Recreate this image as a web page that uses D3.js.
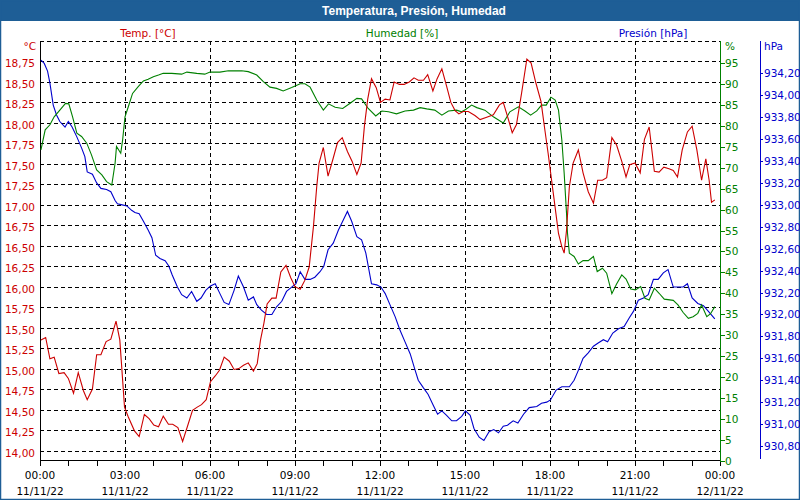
<!DOCTYPE html>
<html><head><meta charset="utf-8">
<script src="https://cdn.jsdelivr.net/npm/d3@7"></script>
<style>
html,body{margin:0;padding:0;background:#fff;}
svg{display:block;font-family:"DejaVu Sans",Verdana,sans-serif;}
</style></head><body>
<svg id="chart" width="800" height="500"></svg>
<script>
const chartTitle = "Temperatura, Presión, Humedad";
const seriesNames = ["Temp. [°C]", "Humedad [%]", "Presión [hPa]"];
const unitNames = ["°C", "%", "hPa"];

// time in minutes since 00:00 11/11/22
const tempTime = [2,12,21,30,40,51,60,71,81,92,100,111,120,129,140,150,161,169,179,187,200,210,221,231,241,251,261,272,281,292,302,312,323,333,342,352,361,371,380,390,401,411,421,431,441,452,460,467,474,481,491,500,510,521,531,540,551,561,570,579,586,591,600,610,620,630,640,651,661,671,680,687,694,702,712,721,731,741,750,761,771,782,792,801,812,821,832,841,851,861,870,879,887,896,907,921,932,946,960,973,981,990,1000,1009,1020,1031,1040,1050,1061,1069,1076,1087,1098,1105,1110,1115,1121,1129,1140,1150,1161,1172,1181,1191,1200,1211,1221,1232,1241,1249,1260,1271,1280,1290,1301,1311,1321,1332,1341,1350,1360,1371,1381,1391,1401,1410,1417,1422,1429];
const tempValues = [15.35,15.38,15.12,15.14,14.94,14.95,14.88,14.70,14.95,14.73,14.62,14.75,15.17,15.17,15.33,15.36,15.58,15.35,14.53,14.41,14.24,14.17,14.44,14.39,14.31,14.29,14.42,14.32,14.32,14.28,14.11,14.29,14.49,14.53,14.56,14.62,14.84,14.91,14.98,15.14,15.09,14.99,15.00,15.04,15.07,14.97,15.06,15.35,15.55,15.79,15.86,15.86,16.18,16.26,16.11,16.00,15.97,16.08,16.24,16.73,17.22,17.51,17.70,17.35,17.55,17.76,17.82,17.65,17.53,17.37,17.51,17.96,18.29,18.54,18.43,18.25,18.29,18.28,18.50,18.47,18.47,18.50,18.55,18.52,18.52,18.59,18.39,18.54,18.66,18.45,18.25,18.15,18.11,18.14,18.14,18.09,18.04,18.07,18.10,18.22,18.25,18.08,17.88,17.98,18.37,18.78,18.73,18.49,18.26,17.92,17.63,17.14,16.65,16.49,16.41,16.69,17.22,17.51,17.67,17.39,17.16,17.02,17.30,17.30,17.33,17.82,17.73,17.53,17.34,17.49,17.51,17.39,17.80,17.95,17.41,17.40,17.46,17.44,17.42,17.34,17.67,17.89,17.96,17.67,17.30,17.56,17.30,17.03,17.06];

const humTime = [2,11,21,30,42,54,61,69,78,88,99,109,120,131,141,152,159,162,171,175,180,187,196,208,219,229,240,251,261,279,300,311,332,349,360,381,399,427,441,459,473,487,501,515,533,551,561,572,586,600,611,625,641,656,671,681,695,711,724,738,755,773,791,805,819,836,851,865,882,893,902,914,925,942,960,981,995,1013,1027,1039,1052,1062,1072,1082,1091,1098,1105,1110,1115,1117,1121,1131,1140,1150,1161,1172,1180,1191,1200,1211,1221,1232,1241,1251,1261,1272,1281,1290,1301,1311,1322,1341,1351,1362,1373,1383,1393,1401,1412,1420,1429];
const humValues = [74.3,79.1,80.3,82.2,83.8,85.4,85.3,82.2,78.3,77.5,75.9,73.1,69.5,68.3,66.7,65.9,71.1,75.1,73.5,76.7,82.2,84.6,87.8,89.4,90.8,91.2,91.8,92.2,92.6,92.6,92.4,92.9,92.6,92.4,92.9,92.9,93.2,93.2,93.0,92.2,90.6,89.3,89.0,88.4,89.2,90.1,90.1,89.3,86.2,83.8,85.3,84.5,84.2,85.4,86.6,86.5,84.2,82.4,83.6,83.4,82.9,83.6,83.8,84.4,84.1,83.8,82.6,83.6,83.8,83.4,84.0,85.0,84.4,83.8,82.2,80.7,83.4,84.6,83.6,82.6,83.6,85.0,85.0,86.9,86.2,83.8,76.7,68.7,59.1,54.4,49.6,48.8,47.0,47.8,47.8,48.8,45.2,46.0,44.8,39.9,42.2,44.4,43.4,41.0,40.8,41.6,38.8,38.4,41.2,40.0,38.6,38.3,37.2,35.4,34.0,34.4,35.2,37.2,34.4,35.1,36.8];

const presTime = [2,9,16,21,28,35,42,53,60,68,78,88,95,100,111,120,129,141,150,159,164,174,184,194,201,210,219,229,237,245,254,265,273,280,291,300,311,321,332,341,351,361,371,381,390,400,411,420,431,441,452,459,469,480,491,501,512,522,533,542,551,561,572,582,593,601,610,621,632,642,651,660,671,681,690,702,713,722,731,741,752,762,773,784,793,801,812,822,833,842,851,861,872,882,893,901,911,919,930,940,951,961,971,981,990,1002,1012,1024,1036,1052,1062,1073,1081,1093,1105,1121,1131,1140,1150,1161,1172,1182,1193,1202,1213,1225,1237,1248,1257,1267,1278,1288,1299,1309,1320,1330,1341,1362,1371,1381,1393,1405,1415,1429];
const presValues = [934.32,934.29,934.22,934.11,933.91,933.82,933.76,933.71,933.76,933.71,933.62,933.52,933.44,933.30,933.28,933.20,933.15,933.14,933.12,933.04,933.01,933.00,932.99,932.95,932.93,932.92,932.85,932.77,932.70,932.54,932.51,932.49,932.44,932.36,932.25,932.18,932.15,932.21,932.12,932.15,932.22,932.26,932.28,932.19,932.11,932.09,932.22,932.35,932.25,932.13,932.16,932.09,932.04,932.00,932.00,932.07,932.12,932.21,932.25,932.28,932.39,932.32,932.32,932.34,932.39,932.44,932.59,932.65,932.77,932.86,932.94,932.85,932.71,932.68,932.56,932.28,932.27,932.25,932.19,932.09,931.98,931.86,931.75,931.64,931.51,931.40,931.33,931.27,931.17,931.09,931.12,931.08,931.03,931.03,931.07,931.12,931.08,930.96,930.88,930.85,930.93,930.95,930.92,930.98,930.99,931.03,931.01,931.09,931.15,931.16,931.19,931.20,931.22,931.31,931.34,931.34,931.40,931.49,931.60,931.65,931.71,931.74,931.77,931.75,931.83,931.87,931.89,931.97,932.03,932.13,932.15,932.18,932.32,932.32,932.38,932.41,932.25,932.25,932.28,932.15,932.10,932.08,932.03,931.96];

const xTickMinutes = [0,180,360,540,720,900,1080,1260,1440];
const xTickHours = ["00:00","03:00","06:00","09:00","12:00","15:00","18:00","21:00","00:00"];
const xTickDates = ["11/11/22","11/11/22","11/11/22","11/11/22","11/11/22","11/11/22","11/11/22","11/11/22","12/11/22"];
const xMinorMinutes = [0,60,120,180,240,300,360,420,480,540,600,660,720,780,840,900,960,1020,1080,1140,1200,1260,1320,1380,1440];
const tempTicks = [14.00,14.25,14.50,14.75,15.00,15.25,15.50,15.75,16.00,16.25,16.50,16.75,17.00,17.25,17.50,17.75,18.00,18.25,18.50,18.75];
const tempGrid = [14.00,14.25,14.50,14.75,15.00,15.25,15.50,15.75,16.00,16.25,16.50,16.75,17.00,17.25,17.50,17.75,18.00,18.25,18.50,18.75,19.00];
const humTicks = [0,5,10,15,20,25,30,35,40,45,50,55,60,65,70,75,80,85,90,95];
const presTicks = [930.8,931.0,931.2,931.4,931.6,931.8,932.0,932.2,932.4,932.6,932.8,933.0,933.2,933.4,933.6,933.8,934.0,934.2];

const RED = "#cc0000", GREEN = "#008000", BLUE = "#0000cc", BAR = "#1e5e96";
const plot = {left: 40, right: 720, top: 40.5, bottom: 460.5};

const locale = d3.formatLocale({decimal: ",", thousands: ".", grouping: [3], currency: ["", "€"]});
const f2 = locale.format(".2f");

const svg = d3.select("#chart");
svg.append("rect").attr("x",0).attr("y",0).attr("width",800).attr("height",500).attr("fill","#fff");
svg.append("rect").attr("x",0).attr("y",0).attr("width",800).attr("height",21).attr("fill",BAR);
svg.append("rect").attr("x",0.5).attr("y",0.5).attr("width",799).attr("height",499)
  .attr("fill","none").attr("stroke",BAR).attr("stroke-width",1.5);
svg.append("text").attr("x",414).attr("y",15).attr("text-anchor","middle")
  .attr("fill","#fff").attr("font-weight","bold").attr("font-size","12px")
  .attr("font-family","'Liberation Sans',Arial,sans-serif").text(chartTitle);

const x = d3.scaleLinear().domain([0,1440]).range([plot.left, plot.right]);
const yT = d3.scaleLinear().domain([14,19]).range([450.5, 41]);
const yH = d3.scaleLinear().domain([0,95]).range([460.5, 63.3]);
const yP = d3.scaleLinear().domain([930.8,934.2]).range([446, 73.3]);

// series labels
const labelFont = "10.5px";
[[seriesNames[0],148,RED],[seriesNames[1],402,GREEN],[seriesNames[2],653,BLUE]].forEach(([t,cx,c])=>{
  svg.append("text").attr("x",cx).attr("y",37).attr("text-anchor","middle").attr("fill",c)
    .attr("font-size",labelFont).text(t);
});

// grid
const g = svg.append("g");
g.selectAll(".hg").data(tempGrid).join("line")
  .attr("x1",plot.left).attr("x2",plot.right)
  .attr("y1",d=>Math.round(yT(d))+0.5).attr("y2",d=>Math.round(yT(d))+0.5)
  .attr("stroke","#000").attr("stroke-dasharray","4,3").attr("shape-rendering","crispEdges");
g.selectAll(".vg").data(xTickMinutes.slice(1,-1)).join("line")
  .attr("x1",d=>Math.round(x(d))+0.5).attr("x2",d=>Math.round(x(d))+0.5)
  .attr("y1",plot.top).attr("y2",plot.bottom)
  .attr("stroke","#000").attr("stroke-dasharray","4,3").attr("shape-rendering","crispEdges");

// axes lines
svg.append("line").attr("x1",plot.left+0.5).attr("x2",plot.left+0.5).attr("y1",plot.top).attr("y2",plot.bottom)
  .attr("stroke","#000").attr("shape-rendering","crispEdges");
svg.append("line").attr("x1",plot.left).attr("x2",plot.right).attr("y1",plot.bottom).attr("y2",plot.bottom)
  .attr("stroke","#000").attr("shape-rendering","crispEdges");
svg.append("line").attr("x1",plot.right+0.5).attr("x2",plot.right+0.5).attr("y1",plot.top).attr("y2",plot.bottom+0.5)
  .attr("stroke",GREEN).attr("shape-rendering","crispEdges");
svg.append("line").attr("x1",760.5).attr("x2",760.5).attr("y1",plot.top).attr("y2",459)
  .attr("stroke",BLUE).attr("shape-rendering","crispEdges");

// x ticks
svg.selectAll(".xt").data(xMinorMinutes).join("line")
  .attr("x1",d=>Math.round(x(d))+0.5).attr("x2",d=>Math.round(x(d))+0.5)
  .attr("y1",plot.bottom).attr("y2",plot.bottom+5)
  .attr("stroke","#000").attr("shape-rendering","crispEdges");
xTickMinutes.forEach((m,i)=>{
  svg.append("text").attr("x",x(m)).attr("y",479).attr("text-anchor","middle").attr("fill","#000")
    .attr("font-size",labelFont).text(xTickHours[i]);
  svg.append("text").attr("x",x(m)).attr("y",495).attr("text-anchor","middle").attr("fill","#000")
    .attr("font-size",labelFont).text(xTickDates[i]);
});

// left temp labels
svg.selectAll(".tl").data(tempTicks).join("text")
  .attr("x",35).attr("y",d=>yT(d)+6).attr("text-anchor","end").attr("fill",RED)
  .attr("font-size",labelFont).text(d=>f2(d));
svg.append("text").attr("x",36).attr("y",50).attr("text-anchor","end").attr("fill",RED)
  .attr("font-size",labelFont).text(unitNames[0]);

// humidity axis
svg.selectAll(".ht").data(humTicks).join("line")
  .attr("x1",plot.right).attr("x2",plot.right+5)
  .attr("y1",d=>Math.round(yH(d))+0.5).attr("y2",d=>Math.round(yH(d))+0.5)
  .attr("stroke",GREEN).attr("shape-rendering","crispEdges");
svg.selectAll(".hl").data(humTicks).join("text")
  .attr("x",725).attr("y",d=>yH(d)+4).attr("fill",GREEN)
  .attr("font-size",labelFont).text(d=>d);
svg.append("text").attr("x",725).attr("y",50).attr("fill",GREEN).attr("font-size",labelFont).text(unitNames[1]);

// pressure axis
svg.selectAll(".pt").data(presTicks).join("line")
  .attr("x1",760).attr("x2",763)
  .attr("y1",d=>Math.round(yP(d))+0.5).attr("y2",d=>Math.round(yP(d))+0.5)
  .attr("stroke",BLUE).attr("shape-rendering","crispEdges");
svg.selectAll(".pl").data(presTicks).join("text")
  .attr("x",764).attr("y",d=>yP(d)+4).attr("fill",BLUE)
  .attr("font-size",labelFont).text(d=>f2(d));
svg.append("text").attr("x",764).attr("y",50).attr("fill",BLUE).attr("font-size",labelFont).text(unitNames[2]);

// series
function drawLine(times, vals, yScale, color){
  const line = d3.line().x((d,i)=>x(times[i])).y(d=>yScale(d));
  svg.append("path").datum(vals).attr("d",line).attr("fill","none")
    .attr("stroke",color).attr("stroke-width",1.1);
}
drawLine(presTime, presValues, yP, BLUE);
drawLine(humTime, humValues, yH, GREEN);
drawLine(tempTime, tempValues, yT, RED);
</script>
</body></html>
